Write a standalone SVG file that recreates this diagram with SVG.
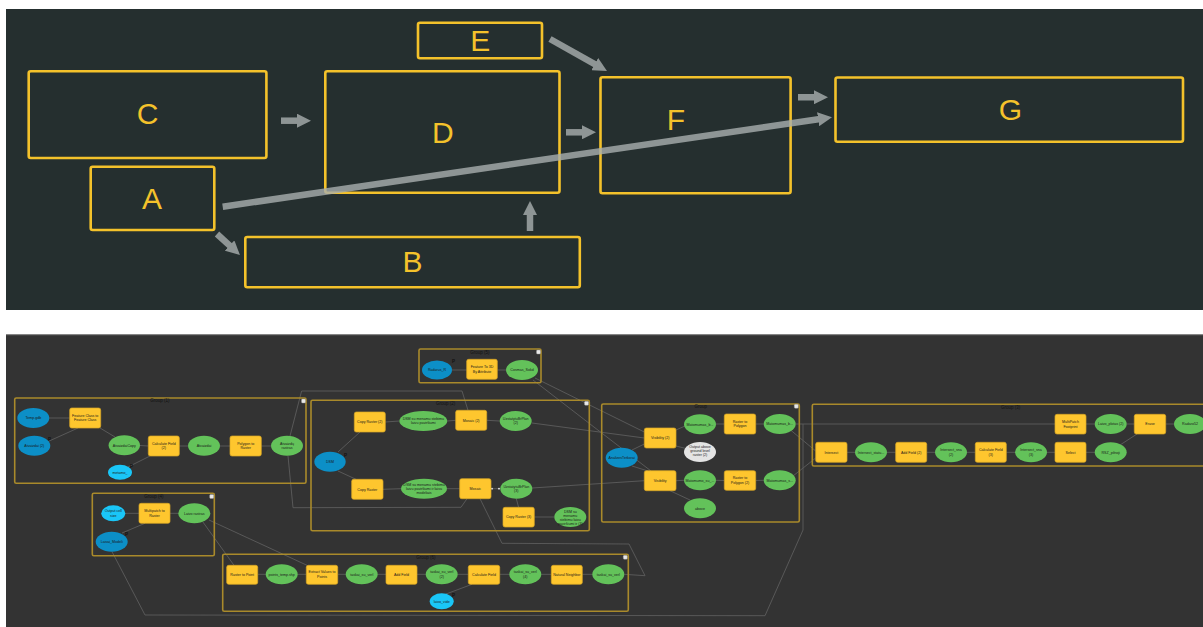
<svg xmlns="http://www.w3.org/2000/svg" width="1203" height="627" viewBox="0 0 1203 627">
<defs>
<style>
.box{fill:none;stroke:#f4c22b;stroke-width:2.6}
.lt{font-family:"Liberation Sans",Arial,sans-serif;font-size:30px;fill:#f4c22b;text-anchor:middle}
.arr{stroke:#a9afaf;stroke-width:6.5;fill:none}
.arrg{opacity:0.8}
.grp{fill:none;stroke:#a98a2b;stroke-width:1.6}
.gl{font-family:"Liberation Sans",Arial,sans-serif;font-size:4.5px;fill:#111;text-anchor:middle}
.tool{fill:#fec62e;stroke:#d8a625;stroke-width:0.7}
.data{fill:#63c25a}
.in{fill:#0c8fc7}
.cy{fill:#1ac6f7}
.wh{fill:#e4e4e4}
.t{font-family:"Liberation Sans",Arial,sans-serif;font-size:3.6px;fill:#1b1b1b;text-anchor:middle}
.p{font-family:"Liberation Sans",Arial,sans-serif;font-size:4.5px;fill:#111;font-weight:bold}
.cn{fill:none;stroke:#5c5c5c;stroke-width:0.9}
.icon{fill:#e8e8e8;stroke:#999;stroke-width:0.4}
</style>
<marker id="ah" markerUnits="userSpaceOnUse" markerWidth="14" markerHeight="14" viewBox="0 0 14 14" refX="2" refY="7" orient="auto">
<path d="M0,0 L14,7 L0,14 z" fill="#a9afaf"/>
</marker>
</defs>
<rect x="0" y="0" width="1203" height="627" fill="#ffffff"/>
<!-- top panel -->
<rect x="6" y="9" width="1197" height="301" fill="#252f2f"/>
<g id="connectors-top">
<g class="arrg"><line class="arr" x1="281" y1="120.7" x2="299" y2="120.7" marker-end="url(#ah)"/></g>
<g class="arrg"><line class="arr" x1="566" y1="132.3" x2="584" y2="132.3" marker-end="url(#ah)"/></g>
<g class="arrg"><line class="arr" x1="550" y1="39" x2="596.5" y2="65.1" marker-end="url(#ah)"/></g>
<g class="arrg"><line class="arr" x1="217" y1="234" x2="231.1" y2="246.9" marker-end="url(#ah)"/></g>
<g class="arrg"><line class="arr" x1="530" y1="231" x2="530" y2="213" marker-end="url(#ah)"/></g>
<g class="arrg"><line class="arr" x1="798" y1="97.3" x2="816" y2="97.2" marker-end="url(#ah)"/></g>
</g>
<g id="C"><rect class="box" x="28.7" y="71.3" width="237.7" height="86.7" rx="2"/><text class="lt" x="147.7" y="123.5">C</text></g>
<g id="D"><rect class="box" x="325.3" y="71.3" width="234.2" height="121.4" rx="2"/><text class="lt" x="442.8" y="142.7">D</text></g>
<g id="E"><rect class="box" x="418" y="22.7" width="124" height="35.6" rx="2"/><text class="lt" x="480.3" y="50.7">E</text></g>
<g id="A"><rect class="box" x="90.7" y="166.7" width="123.6" height="63.3" rx="2"/><text class="lt" x="152" y="209">A</text></g>
<g id="B"><rect class="box" x="245.3" y="237" width="334.5" height="50.3" rx="2"/><text class="lt" x="412.5" y="271.7">B</text></g>
<g id="F"><rect class="box" x="600.5" y="77.3" width="190.1" height="116" rx="2"/><text class="lt" x="675.8" y="130">F</text></g>
<g id="G"><rect class="box" x="835.5" y="77.5" width="347.5" height="64.2" rx="2"/><text class="lt" x="1010.4" y="119.5">G</text></g>
<g id="connector-AG" class="arrg"><line class="arr" x1="222.7" y1="206.7" x2="820.1" y2="119" marker-end="url(#ah)"/></g>

<!-- bottom panel -->
<rect x="6" y="334.5" width="1197" height="292.5" fill="#333333"/>
<line x1="6" y1="334.8" x2="1203" y2="334.8" stroke="#777" stroke-width="0.8"/>

<g id="connectors-bottom">
<!-- group 1 -->
<line class="cn" x1="49" y1="418" x2="69.7" y2="418"/>
<line class="cn" x1="78" y1="428" x2="47" y2="442"/>
<line class="cn" x1="100" y1="428" x2="115" y2="437"/>
<line class="cn" x1="140" y1="445.5" x2="148.3" y2="446"/>
<line class="cn" x1="179.3" y1="446" x2="188" y2="446"/>
<line class="cn" x1="220" y1="446" x2="230" y2="446"/>
<line class="cn" x1="261.3" y1="446" x2="271" y2="446"/>
<line class="cn" x1="128" y1="467" x2="150" y2="456"/>
<!-- group 5 -->
<line class="cn" x1="452" y1="370" x2="466.7" y2="370"/>
<line class="cn" x1="497.3" y1="370" x2="506" y2="370"/>
<!-- group 2 -->
<line class="cn" x1="338" y1="452" x2="360" y2="432"/>
<line class="cn" x1="338" y1="471" x2="356" y2="479.3"/>
<line class="cn" x1="385.3" y1="422" x2="399.3" y2="421"/>
<line class="cn" x1="447.3" y1="421" x2="455.7" y2="420.3"/>
<line class="cn" x1="486.7" y1="420.3" x2="499.7" y2="421"/>
<line class="cn" x1="383" y1="489.3" x2="401" y2="488.7"/>
<line class="cn" x1="447" y1="488.7" x2="459.7" y2="488.7"/>
<line class="cn" x1="491" y1="488.7" x2="500.3" y2="488.7"/>
<line class="cn" x1="516.3" y1="498.7" x2="518.6" y2="507.3"/>
<line class="cn" x1="534.3" y1="517" x2="554.3" y2="517"/>
<!-- group Group -->
<line class="cn" x1="632" y1="450" x2="644.3" y2="444"/>
<line class="cn" x1="632" y1="466" x2="648" y2="471"/>
<line class="cn" x1="676" y1="430" x2="685" y2="426"/>
<line class="cn" x1="676" y1="446" x2="688" y2="449"/>
<line class="cn" x1="676" y1="480.7" x2="684" y2="480.3"/>
<line class="cn" x1="670" y1="490.7" x2="690" y2="500"/>
<line class="cn" x1="716" y1="424" x2="724.3" y2="424"/>
<line class="cn" x1="755.7" y1="424" x2="763.7" y2="424"/>
<line class="cn" x1="716" y1="480.3" x2="724.3" y2="480.5"/>
<line class="cn" x1="755.7" y1="480.5" x2="763.7" y2="480.3"/>
<!-- group 3 -->
<line class="cn" x1="847" y1="452.3" x2="855" y2="452.3"/>
<line class="cn" x1="887" y1="452.3" x2="895.7" y2="452.3"/>
<line class="cn" x1="926.7" y1="452.3" x2="935" y2="452.3"/>
<line class="cn" x1="967" y1="452.3" x2="975.3" y2="452.3"/>
<line class="cn" x1="1006.3" y1="452.3" x2="1015" y2="452.3"/>
<line class="cn" x1="1047" y1="452.3" x2="1055" y2="452.3"/>
<line class="cn" x1="1086" y1="452.3" x2="1094.7" y2="452.3"/>
<line class="cn" x1="1120" y1="445" x2="1137" y2="434"/>
<line class="cn" x1="1086" y1="424" x2="1094.7" y2="424"/>
<line class="cn" x1="1126.7" y1="424" x2="1134.3" y2="424"/>
<line class="cn" x1="1165.7" y1="424" x2="1174" y2="424"/>
<!-- group 4 -->
<line class="cn" x1="125.3" y1="513.3" x2="139" y2="513.3"/>
<line class="cn" x1="170" y1="513.3" x2="178.3" y2="513.3"/>
<line class="cn" x1="145" y1="523.3" x2="122" y2="533"/>
<!-- group 6 -->
<line class="cn" x1="257.7" y1="574.3" x2="265.7" y2="574.3"/>
<line class="cn" x1="297.7" y1="574.3" x2="306.3" y2="574.3"/>
<line class="cn" x1="337.7" y1="574.3" x2="345.7" y2="574.3"/>
<line class="cn" x1="377.7" y1="574.3" x2="386" y2="574.3"/>
<line class="cn" x1="417" y1="574.3" x2="425.7" y2="574.3"/>
<line class="cn" x1="457.7" y1="574.3" x2="468.3" y2="574.3"/>
<line class="cn" x1="499.7" y1="574.3" x2="509.3" y2="574.3"/>
<line class="cn" x1="541.3" y1="574.3" x2="551.3" y2="574.3"/>
<line class="cn" x1="582.3" y1="574.3" x2="592.3" y2="574.3"/>
<line class="cn" x1="446" y1="594" x2="472" y2="584.3"/>
<!-- between groups -->
<polyline class="cn" points="290,436 301.6,391 462,391 468,410.3"/>
<polyline class="cn" points="288,456 293,507.7 461,507.3 467,498.7"/>
<line class="cn" x1="535" y1="378" x2="644.3" y2="432"/>
<line class="cn" x1="533" y1="380" x2="651" y2="471"/>
<line class="cn" x1="532" y1="423" x2="644.3" y2="438"/>
<line class="cn" x1="532" y1="488" x2="644.3" y2="480.7"/>
<line class="cn" x1="790.5" y1="430" x2="815.7" y2="451"/>
<line class="cn" x1="793" y1="476" x2="815.7" y2="458"/>
<line class="cn" x1="795.7" y1="424" x2="1055" y2="424"/>
<polyline class="cn" points="112,551.7 145,615 765,615.7 803,530 803,424"/>
<polyline class="cn" points="480,498.7 502,543.3 629,544 645,575.7 624.3,574.3"/>
<line class="cn" x1="202.7" y1="521.7" x2="234" y2="565.3"/>
<line class="cn" x1="209" y1="520" x2="307" y2="565.3"/>
<circle cx="492" cy="488.7" r="0.9" fill="#eee"/>
<circle cx="499" cy="488.7" r="0.9" fill="#eee"/>
</g>

<!-- Group (5) -->
<g id="group5">
<rect class="grp" x="419" y="349" width="122" height="33.7" rx="1.5"/>
<text class="gl" x="480" y="353.5">Group (5)</text>
<rect class="icon" x="536.5" y="350" width="4" height="4" rx="1"/>
</g>
<g id="n-radarus"><ellipse class="in" cx="437" cy="370" rx="15" ry="9.5"/><text class="t" x="437" y="371.2">Radarus_R</text><text class="p" x="452" y="363">P</text></g>
<g id="n-ft3d"><rect class="tool" x="466.7" y="359.3" width="30.6" height="20" rx="2"/><text class="t" x="482" y="368">Feature To 3D</text><text class="t" x="482" y="372.5">By Attribute</text></g>
<g id="n-cosmas"><ellipse class="data" cx="522" cy="370" rx="16" ry="10"/><text class="t" x="522" y="371.2">Cosmas_Sokd</text></g>

<!-- Group (1) -->
<g id="group1">
<rect class="grp" x="14.7" y="398" width="291.3" height="85.3" rx="1.5"/>
<text class="gl" x="160" y="402.3">Group (1)</text>
<rect class="icon" x="301.5" y="399" width="4" height="4" rx="1"/>
</g>
<g id="n-tempgdb"><ellipse class="in" cx="33.3" cy="418" rx="16" ry="10"/><text class="t" x="33.3" y="419.2">Temp.gdb</text></g>
<g id="n-atv2"><ellipse class="in" cx="34.3" cy="445.7" rx="16" ry="10"/><text class="t" x="34.3" y="446.9">Atvaizdai (2)</text><text class="p" x="48" y="441">P</text></g>
<g id="n-fc2fc"><rect class="tool" x="69.7" y="408" width="31" height="20" rx="2"/><text class="t" x="85.2" y="416.8">Feature Class to</text><text class="t" x="85.2" y="421.3">Feature Class</text></g>
<g id="n-atvcopy"><ellipse class="data" cx="124.3" cy="445.3" rx="15.7" ry="10"/><text class="t" x="124.3" y="446.5">AtvaizdaiCopy</text></g>
<g id="n-calc2"><rect class="tool" x="148.3" y="436" width="31" height="20" rx="2"/><text class="t" x="163.8" y="444.8">Calculate Field</text><text class="t" x="163.8" y="449.3">(2)</text></g>
<g id="n-atv"><ellipse class="data" cx="204" cy="445.7" rx="16" ry="10"/><text class="t" x="204" y="446.9">Atvaizdai</text></g>
<g id="n-ptr"><rect class="tool" x="230" y="436" width="31.3" height="20" rx="2"/><text class="t" x="245.7" y="444.8">Polygon to</text><text class="t" x="245.7" y="449.3">Raster</text></g>
<g id="n-atvr"><ellipse class="data" cx="287" cy="445.7" rx="16" ry="10"/><text class="t" x="287" y="444.6">Atvaizdų</text><text class="t" x="287" y="449">rastras</text></g>
<g id="n-metamo"><ellipse class="cy" cx="120" cy="472.3" rx="12" ry="7.5"/><text class="t" x="120" y="473.5">metamo_</text><text class="p" x="130" y="468">P</text></g>

<!-- Group (2) -->
<g id="group2">
<rect class="grp" x="311" y="400.3" width="278.3" height="130.4" rx="1.5"/>
<text class="gl" x="445.7" y="404.6">Group (2)</text>
<rect class="icon" x="584.5" y="401.3" width="4" height="4" rx="1"/>
</g>
<g id="n-dsm"><ellipse class="in" cx="330" cy="461.7" rx="15.7" ry="10"/><text class="t" x="330" y="462.9">DSM</text><text class="p" x="344" y="457">P</text></g>
<g id="n-cr2"><rect class="tool" x="354.3" y="412" width="31" height="20" rx="2"/><text class="t" x="369.8" y="423.2">Copy Raster (2)</text></g>
<g id="n-dsmsu"><ellipse class="data" cx="423.3" cy="421" rx="24" ry="10"/><text class="t" x="423.3" y="419.8">DSM su menamu stebimu</text><text class="t" x="423.3" y="424.2">laivu paviršiumi</text></g>
<g id="n-mosaic2"><rect class="tool" x="455.7" y="410.3" width="31" height="20" rx="2"/><text class="t" x="471.2" y="421.5">Mosaic (2)</text></g>
<g id="n-uzst2"><ellipse class="data" cx="515.7" cy="421" rx="16" ry="10"/><text class="t" x="515.7" y="419.8">UzstatytuBrPlan</text><text class="t" x="515.7" y="424.2">(2)</text></g>
<g id="n-cr"><rect class="tool" x="351.7" y="479.3" width="31.3" height="20" rx="2"/><text class="t" x="367.3" y="490.5">Copy Raster</text></g>
<g id="n-dsmsu2"><ellipse class="data" cx="424" cy="488.7" rx="23" ry="10"/><text class="t" x="424" y="485.5">DSM su menamu stebimu</text><text class="t" x="424" y="489.9">laivu paviršiumi ir laivu</text><text class="t" x="424" y="494.3">modeliais</text></g>
<g id="n-mosaic"><rect class="tool" x="459.7" y="478.7" width="31.3" height="20" rx="2"/><text class="t" x="475.3" y="489.9">Mosaic</text></g>
<g id="n-uzst3"><ellipse class="data" cx="516.3" cy="488.7" rx="16" ry="10"/><text class="t" x="516.3" y="487.5">UzstatytuBrPlan</text><text class="t" x="516.3" y="491.9">(3)</text></g>
<g id="n-cr3"><rect class="tool" x="503" y="507.3" width="31.3" height="19.7" rx="2"/><text class="t" x="518.6" y="518.3">Copy Raster (3)</text></g>
<g id="n-dsm3"><ellipse class="data" cx="570.3" cy="517" rx="16" ry="10"/><text class="t" x="570.3" y="512.6">DSM su</text><text class="t" x="570.3" y="516.6">menamu</text><text class="t" x="570.3" y="520.6">stebimu laivu</text><text class="t" x="570.3" y="524.6">paviršiumi ir (3)</text></g>

<!-- Group -->
<g id="group">
<rect class="grp" x="601.7" y="404" width="197.6" height="118" rx="1.5"/>
<text class="gl" x="700.7" y="408.3">Group</text>
<rect class="icon" x="794.3" y="404.3" width="4" height="4" rx="1"/>
</g>
<g id="n-analizes"><ellipse class="in" cx="621.7" cy="457.7" rx="16" ry="10"/><text class="t" x="621.7" y="458.9">AnalizesTerkorai</text></g>
<g id="n-vis2"><rect class="tool" x="644.3" y="428" width="31.7" height="20" rx="2"/><text class="t" x="660.2" y="439.2">Visibility (2)</text></g>
<g id="n-vis"><rect class="tool" x="644.3" y="470.7" width="31.7" height="20" rx="2"/><text class="t" x="660.2" y="481.9">Visibility</text></g>
<g id="n-matb"><ellipse class="data" cx="700" cy="424.3" rx="16" ry="10"/><text class="t" x="700" y="425.5">Matomumas_b...</text></g>
<g id="n-output"><ellipse class="wh" cx="700" cy="452" rx="16" ry="10"/><text class="t" x="700" y="447.8">Output above</text><text class="t" x="700" y="451.8">ground level</text><text class="t" x="700" y="455.8">raster (2)</text></g>
<g id="n-mats"><ellipse class="data" cx="700" cy="480.3" rx="16" ry="10"/><text class="t" x="700" y="481.5">Matomumo_su_...</text></g>
<g id="n-above"><ellipse class="data" cx="700" cy="508.3" rx="16" ry="10"/><text class="t" x="700" y="509.5">above</text></g>
<g id="n-rtp"><rect class="tool" x="724.3" y="414" width="31.4" height="20" rx="2"/><text class="t" x="740" y="422.8">Raster to</text><text class="t" x="740" y="427.3">Polygon</text></g>
<g id="n-rtp2"><rect class="tool" x="724.3" y="470.7" width="31.4" height="19.6" rx="2"/><text class="t" x="740" y="479.3">Raster to</text><text class="t" x="740" y="483.8">Polygon (2)</text></g>
<g id="n-matb2"><ellipse class="data" cx="779.7" cy="424" rx="16" ry="10"/><text class="t" x="779.7" y="425.2">Matomumas_b...</text></g>
<g id="n-mats2"><ellipse class="data" cx="779.7" cy="480.3" rx="16" ry="10"/><text class="t" x="779.7" y="481.5">Matomumas_s...</text></g>

<!-- Group (3) -->
<g id="group3">
<rect class="grp" x="812.3" y="404.3" width="400" height="61.7" rx="1.5"/>
<text class="gl" x="1010.7" y="408.6">Group (3)</text>
</g>
<g id="n-intersect"><rect class="tool" x="815.7" y="442.3" width="31.3" height="20" rx="2"/><text class="t" x="831.3" y="453.5">Intersect</text></g>
<g id="n-intst"><ellipse class="data" cx="871" cy="452.3" rx="16" ry="10"/><text class="t" x="871" y="453.5">Intersect_statu...</text></g>
<g id="n-af2"><rect class="tool" x="895.7" y="442.3" width="31" height="20" rx="2"/><text class="t" x="911.2" y="453.5">Add Field (2)</text></g>
<g id="n-ints2"><ellipse class="data" cx="951" cy="452.3" rx="16" ry="10"/><text class="t" x="951" y="451.1">Intersect_sna</text><text class="t" x="951" y="455.5">(2)</text></g>
<g id="n-calc3"><rect class="tool" x="975.3" y="442.3" width="31" height="20" rx="2"/><text class="t" x="990.8" y="451.1">Calculate Field</text><text class="t" x="990.8" y="455.6">(3)</text></g>
<g id="n-ints3"><ellipse class="data" cx="1031" cy="452.3" rx="16" ry="10"/><text class="t" x="1031" y="451.1">Intersect_sna</text><text class="t" x="1031" y="455.5">(3)</text></g>
<g id="n-select"><rect class="tool" x="1055" y="442.3" width="31" height="20" rx="2"/><text class="t" x="1070.5" y="453.5">Select</text></g>
<g id="n-rsz"><ellipse class="data" cx="1110.7" cy="452.3" rx="16" ry="10"/><text class="t" x="1110.7" y="453.5">RSZ_pilnoji</text></g>
<g id="n-mpf"><rect class="tool" x="1055" y="414.3" width="31" height="19.7" rx="2"/><text class="t" x="1070.5" y="423">MultiPatch</text><text class="t" x="1070.5" y="427.5">Footprint</text></g>
<g id="n-lplot"><ellipse class="data" cx="1110.7" cy="424" rx="16" ry="10"/><text class="t" x="1110.7" y="425.2">Laivo_plotas (2)</text></g>
<g id="n-erase"><rect class="tool" x="1134.3" y="414.3" width="31.4" height="19.7" rx="2"/><text class="t" x="1150" y="425.4">Erase</text></g>
<g id="n-radaro"><ellipse class="data" cx="1190" cy="424" rx="16" ry="10"/><text class="t" x="1190" y="425.2">Radaro52</text></g>

<!-- Group (4) -->
<g id="group4">
<rect class="grp" x="92.3" y="493.3" width="122" height="62.4" rx="1.5"/>
<text class="gl" x="154" y="497.6">Group (4)</text>
<rect class="icon" x="209.7" y="494.5" width="4" height="4" rx="1"/>
</g>
<g id="n-ocs"><ellipse class="cy" cx="113.3" cy="513.3" rx="12" ry="8"/><text class="t" x="113.3" y="512.1">Output cell</text><text class="t" x="113.3" y="516.5">size</text></g>
<g id="n-mtr"><rect class="tool" x="139" y="503.3" width="31" height="20" rx="2"/><text class="t" x="154.5" y="512.1">Multipatch to</text><text class="t" x="154.5" y="516.6">Raster</text></g>
<g id="n-lrast"><ellipse class="data" cx="194.3" cy="513.3" rx="16" ry="10"/><text class="t" x="194.3" y="514.5">Laivo rastras</text></g>
<g id="n-lmod"><ellipse class="in" cx="111.7" cy="541.7" rx="16" ry="10"/><text class="t" x="111.7" y="542.9">Laivai_Modeli</text><text class="p" x="125" y="535.5">P</text></g>

<!-- Group (6) -->
<g id="group6">
<rect class="grp" x="222.7" y="554.3" width="405.6" height="57" rx="1.5"/>
<text class="gl" x="426" y="558.6">Group (6)</text>
<rect class="icon" x="623.3" y="555.3" width="4" height="4" rx="1"/>
</g>
<g id="n-rtpt"><rect class="tool" x="226.7" y="565.3" width="31" height="19" rx="2"/><text class="t" x="242.2" y="575.5">Raster to Point</text></g>
<g id="n-pts"><ellipse class="data" cx="281.7" cy="574.3" rx="16" ry="10"/><text class="t" x="281.7" y="575.5">points_temp.shp</text></g>
<g id="n-evp"><rect class="tool" x="306.3" y="565.3" width="31.4" height="19" rx="2"/><text class="t" x="322" y="573.3">Extract Values to</text><text class="t" x="322" y="577.8">Points</text></g>
<g id="n-tv1"><ellipse class="data" cx="361.7" cy="574.3" rx="16" ry="10"/><text class="t" x="361.7" y="575.5">taskai_su_verl</text></g>
<g id="n-af"><rect class="tool" x="386" y="565.3" width="31" height="19" rx="2"/><text class="t" x="401.5" y="575.5">Add Field</text></g>
<g id="n-tv2"><ellipse class="data" cx="441.7" cy="574.3" rx="16" ry="10"/><text class="t" x="441.7" y="573.1">taskai_su_verl</text><text class="t" x="441.7" y="577.5">(2)</text></g>
<g id="n-calc"><rect class="tool" x="468.3" y="565.3" width="31.4" height="19" rx="2"/><text class="t" x="484" y="575.5">Calculate Field</text></g>
<g id="n-tv4"><ellipse class="data" cx="525.3" cy="574.3" rx="16" ry="10"/><text class="t" x="525.3" y="573.1">taskai_su_verl</text><text class="t" x="525.3" y="577.5">(4)</text></g>
<g id="n-nn"><rect class="tool" x="551.3" y="565.3" width="31" height="19" rx="2"/><text class="t" x="566.8" y="575.5">Natural Neighbor</text></g>
<g id="n-tv5"><ellipse class="data" cx="608.3" cy="574.3" rx="16" ry="10"/><text class="t" x="608.3" y="575.5">taskai_su_verl</text></g>
<g id="n-laivo"><ellipse class="cy" cx="441.7" cy="601.3" rx="12" ry="8"/><text class="t" x="441.7" y="602.5">laivo_vide</text><text class="p" x="452" y="597">P</text></g>
</svg>
